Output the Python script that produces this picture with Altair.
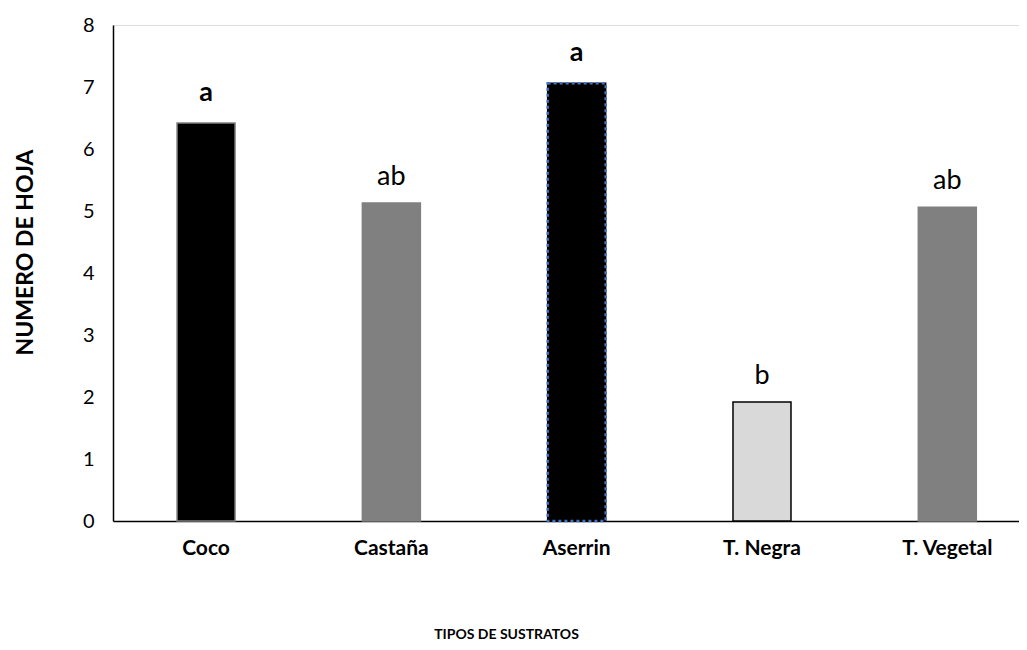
import altair as alt
import pandas as pd

categorias = ["Coco", "Castaña", "Aserrin", "T. Negra", "T. Vegetal"]
valores = [6.42, 5.13, 7.06, 1.92, 5.06]
letras = ["a", "ab", "a", "b", "ab"]
negrita = [True, False, True, False, False]
rellenos = ["#000000", "#808080", "#000000", "#d9d9d9", "#808080"]
bordes = ["#808080", "#808080", "#000000", "#000000", "#808080"]

df = pd.DataFrame({
    "cat": categorias, "val": valores, "letra": letras,
    "bold": negrita, "fill": rellenos, "stroke": bordes,
})

FONT = "Lato"

x = alt.X("cat:N", sort=categorias, title="TIPOS DE SUSTRATOS",
          scale=alt.Scale(paddingInner=0.687, paddingOuter=0.288, align=0.6),
          axis=alt.Axis(labelAngle=0, ticks=False, labelPadding=16, labelFont=FONT,
                        labelFontSize=21, labelFontWeight="bold", labelColor="#000",
                        domainColor="#000", domainWidth=1.5, titleFont=FONT,
                        titleFontSize=14, titleFontWeight="bold", titleColor="#000",
                        titleX=393, titleY=106, titleAnchor="middle"))
y = alt.Y("val:Q", title="NUMERO DE HOJA",
          scale=alt.Scale(domain=[0, 8]),
          axis=alt.Axis(values=[0, 1, 2, 3, 4, 5, 6, 7, 8], ticks=False, grid=False,
                        labelPadding=19, labelFont=FONT, labelFontSize=20,
                        labelColor="#000", domainColor="#000", domainWidth=1.5,
                        titleFont=FONT, titleFontSize=23, titleFontWeight="bold",
                        titleColor="#000", titleX=-76, titleY=227))

base = alt.Chart(df)

bars = base.mark_bar(strokeWidth=1.5).encode(
    x=x, y=y,
    color=alt.Color("fill:N", scale=None),
    stroke=alt.Stroke("stroke:N", scale=None),
)

aserrin = base.transform_filter(alt.datum.cat == "Aserrin").mark_bar(
    fill="#000000", stroke="#4472C4", strokeWidth=2.5, strokeDash=[3, 3]
).encode(x=x, y=y)

txt_bold = base.transform_filter(alt.datum.bold).mark_text(
    font=FONT, fontSize=27, fontWeight="bold", dy=-22, baseline="alphabetic", color="#000"
).encode(x=x, y=y, text="letra:N")

txt_reg = base.transform_filter(~alt.datum.bold).mark_text(
    font=FONT, fontSize=27, fontWeight="normal", dy=-18, baseline="alphabetic", color="#000"
).encode(x=x, y=y, text="letra:N")

chart = alt.layer(bars, aserrin, txt_bold, txt_reg).properties(
    width=906, height=496,
    autosize=alt.AutoSizeParams(type="none"),
    padding={"left": 105, "top": 17, "right": 0, "bottom": 120},
).configure_view(stroke=None).configure(background="white")

chart.save("out.html", embed_options={"renderer": "svg", "actions": False})
